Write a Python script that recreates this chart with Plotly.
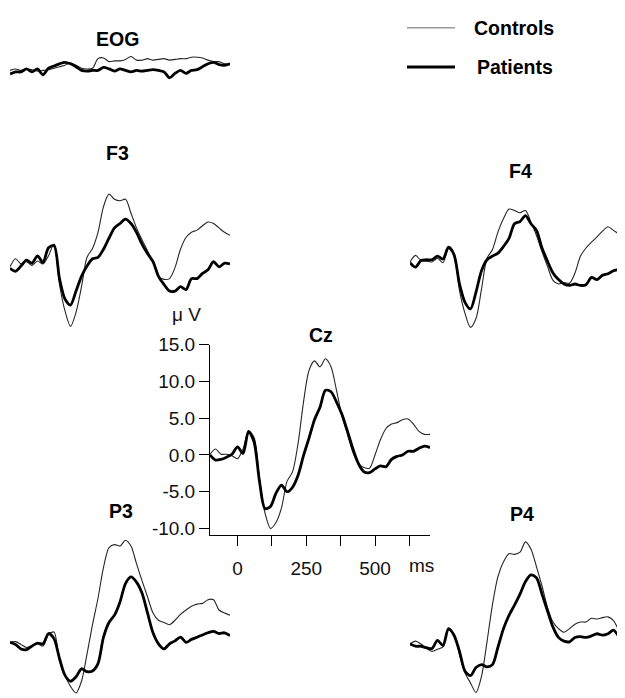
import plotly.graph_objects as go

# ---------------- data (µV), time in ms ----------------
time_ms = list(range(-100, 701, 20))

eog_controls = [0.2, 0.4, 0.2, 0.4, 0.3, 0.1, 0.2, 0.3, 0.5, 0.7, 0.9, 1.2, 0.9, 0.5, 0.4, 0.5,
                1.8, 1.9, 1.4, 1.5, 1.5, 1.7, 2.1, 1.6, 1.6, 1.8, 1.6, 1.7, 1.8, 1.6, 1.7,
                1.8, 1.8, 2.0, 2.0, 1.9, 1.6, 1.4, 1.4, 1.1, 1.0]
eog_patients = [-0.3, 0.0, 0.0, 0.4, 0.0, 0.4, -0.4, 0.5, 0.8, 1.1, 1.3, 1.1, 0.7, 0.2, 0.1, 0.2,
                0.2, 0.6, 0.4, 0.1, 0.4, 0.2, 0.0, 0.2, 0.1, 0.2, 0.3, 0.2, 0.0, -0.8, -0.2,
                0.2, -0.2, 0.2, 0.3, 0.7, 1.1, 1.3, 1.0, 0.9, 1.1]

f3_controls = [0.0, 1.1, 0.4, 0.7, 0.2, 0.8, 0.4, 1.5, 3.1, -2.4, -6.0, -8.1, -6.2, -2.7, 1.3, 2.5,
               4.7, 8.2, 9.9, 9.2, 9.0, 9.2, 7.3, 5.3, 3.7, 2.2, 0.7, -1.3, -1.7, -1.6, -0.1,
               2.4, 4.0, 4.7, 5.0, 5.6, 6.1, 5.9, 5.3, 4.7, 4.3]
f3_patients = [-0.2, -0.6, 0.1, 0.9, 0.5, 1.5, 0.6, 2.6, 2.9, -1.6, -4.4, -5.2, -3.3, -1.3, 0.1, 1.1,
               1.3, 2.4, 3.9, 5.3, 5.9, 6.5, 5.9, 4.7, 3.1, 1.8, 0.7, -1.3, -2.4, -3.3, -3.3,
               -2.7, -3.1, -1.6, -1.6, -0.9, -0.4, 0.7, 0.0, 0.5, 0.4]

f4_controls = [0.0, 0.9, 0.2, 0.1, 0.0, 0.5, -0.1, 1.9, 1.0, -3.9, -7.0, -8.9, -7.7, -3.7, 0.5, 1.7,
               4.1, 5.9, 7.2, 7.0, 6.7, 7.0, 5.4, 3.6, 1.4, -0.6, -2.5, -3.0, -2.8, -2.9, -1.5,
               0.8, 1.9, 2.7, 3.4, 4.2, 4.8, 4.3, 3.8, 3.4, 3.2]
f4_patients = [-0.1, -0.7, 0.2, 0.3, 0.3, 0.8, 0.4, 2.0, 1.0, -3.0, -5.5, -6.4, -4.1, -1.2, 0.3, 0.8,
               1.2, 2.1, 3.2, 5.2, 5.5, 6.3, 5.2, 4.3, 1.9, 0.1, -1.5, -2.4, -3.0, -3.2, -3.0,
               -3.2, -3.1, -2.1, -2.4, -1.8, -1.6, -1.2, -1.0, -0.7, -0.7]

cz_controls = [0.1, 0.8, 0.1, 0.1, -0.1, -0.5, 0.8, 3.2, 2.4, -3.3, -7.9, -10.0, -9.2, -7.2, -3.6, -2.3,
               1.5, 7.2, 11.5, 12.8, 12.0, 13.1, 12.0, 8.8, 5.3, 2.8, 0.3, -1.2, -1.7, -1.8, 0.0,
               2.1, 3.6, 4.2, 4.4, 4.8, 4.9, 4.2, 3.2, 2.8, 2.8]
cz_patients = [0.0, -0.7, -0.6, -0.3, 0.1, 1.1, 0.2, 3.2, 1.8, -3.6, -7.3, -7.0, -5.2, -4.1, -5.0, -4.4,
               -2.8, -0.1, 2.3, 4.8, 6.5, 8.8, 8.6, 7.2, 5.5, 3.2, 0.8, -1.2, -2.3, -2.4, -1.9,
               -1.5, -1.6, -0.6, -0.2, 0.0, 0.5, 0.5, 0.9, 1.2, 1.0]

p3_controls = [0.1, 0.2, -0.2, -0.6, -0.4, -0.1, -0.4, 1.2, 1.5, -2.4, -4.4, -5.9, -6.8, -5.2, -1.5, 2.5,
               6.1, 10.3, 13.0, 13.4, 13.2, 14.0, 13.2, 10.8, 8.5, 6.3, 4.1, 3.1, 2.8, 2.5, 3.1,
               3.9, 4.5, 5.0, 5.3, 5.4, 5.9, 5.9, 4.5, 4.1, 3.8]
p3_patients = [0.1, -0.2, -0.8, -0.9, -0.4, 0.0, -0.1, 1.3, 0.6, -2.1, -4.4, -5.2, -4.6, -3.5, -3.9, -3.8,
               -2.8, 0.8, 2.8, 3.8, 5.6, 8.1, 9.0, 8.3, 6.8, 4.1, 1.4, -0.1, -0.8, -0.1, 0.3,
               0.8, 0.1, 0.5, 0.8, 1.1, 1.4, 1.6, 1.3, 1.4, 1.0]

p4_controls = [0.0, 0.4, 0.0, -0.6, -1.0, -0.7, -0.4, 1.9, 1.4, -1.5, -3.9, -5.3, -6.6, -4.4, 0.3, 5.4,
               9.2, 11.2, 12.3, 12.2, 12.5, 13.9, 12.9, 10.5, 7.9, 5.0, 3.0, 2.1, 1.6, 2.1, 2.7,
               3.0, 3.0, 3.5, 3.4, 3.6, 3.7, 3.2, 1.9, 1.4, 1.2]
p4_patients = [0.0, -0.3, -0.3, -0.5, -0.6, 0.5, -0.2, 2.1, 1.2, -1.0, -3.7, -4.3, -3.2, -2.8, -3.1, -2.8,
               -0.4, 2.1, 3.9, 5.3, 6.8, 8.5, 9.4, 9.0, 6.8, 4.5, 2.3, 0.9, 0.4, 0.3, 0.9,
               1.0, 0.9, 1.1, 1.4, 1.2, 1.4, 1.9, 1.1, 1.5, 1.3]

channel_names = ["EOG", "F3", "F4", "Cz", "P3", "P4"]
series_names = ["Controls", "Patients"]
cz_tick_vals = [-10, -5, 0, 5, 10, 15]
cz_tick_text = ["-10.0", "-5.0", "0.0", "5.0", "10.0", "15.0"]
time_tick_vals = [0, 125, 250, 375, 500, 625]
time_tick_text = ["0", "", "250", "", "500", ""]

# ---------------- layout geometry (screen pixels) ----------------
WIN_W, WIN_H = 625, 698
OFF = 8                      # page body margin offset
W, H = WIN_W - OFF, WIN_H - OFF
PX_PER_MS = 0.275
PX_PER_UV = 7.5
T0, T1 = -100, 700


def px_x(sx):
    return (sx - OFF) / W


def px_y(sy):
    return 1 - (sy - OFF) / H


# left = screen x of t=-100, base = screen y of 0 µV
panels = {
    "EOG": dict(left=10, base=63, lo=-3, hi=3, data=(eog_controls, eog_patients)),
    "F3": dict(left=10, base=262, lo=-11, hi=11, data=(f3_controls, f3_patients)),
    "F4": dict(left=410, base=257, lo=-11, hi=11, data=(f4_controls, f4_patients)),
    "Cz": dict(left=210, base=454, lo=-10.9, hi=15, data=(cz_controls, cz_patients)),
    "P3": dict(left=10, base=646, lo=-11, hi=15, data=(p3_controls, p3_patients)),
    "P4": dict(left=410, base=647, lo=-11, hi=15, data=(p4_controls, p4_patients)),
}

styles = {
    "Controls": dict(color="#262626", width=1.1),
    "Patients": dict(color="#000000", width=2.8),
}

FONT = "Liberation Sans, Arial, sans-serif"

fig = go.Figure()
layout_axes = {}

for i, name in enumerate(channel_names, start=1):
    p = panels[name]
    xa = "x" if i == 1 else f"x{i}"
    ya = "y" if i == 1 else f"y{i}"
    xkey = "xaxis" if i == 1 else f"xaxis{i}"
    ykey = "yaxis" if i == 1 else f"yaxis{i}"

    right_px = min(WIN_W, p["left"] + (T1 - T0) * PX_PER_MS)
    x_hi = T0 + (right_px - p["left"]) / PX_PER_MS
    lo = max(p["lo"], -(WIN_H - p["base"]) / PX_PER_UV)
    hi = min(p["hi"], (p["base"] - OFF) / PX_PER_UV)
    top_px = p["base"] - hi * PX_PER_UV
    bot_px = p["base"] - lo * PX_PER_UV

    for sname, vals in zip(series_names, p["data"]):
        fig.add_trace(go.Scatter(
            x=time_ms, y=vals, mode="lines", name=sname,
            line=dict(color=styles[sname]["color"], width=styles[sname]["width"],
                      shape="spline", smoothing=0.8),
            xaxis=xa, yaxis=ya, showlegend=False, hoverinfo="skip"))

    is_cz = name == "Cz"
    layout_axes[xkey] = dict(
        domain=[px_x(p["left"]), px_x(right_px)], range=[T0, x_hi], anchor=ya,
        visible=is_cz, showgrid=False, zeroline=False,
        showline=is_cz, linecolor="#000", linewidth=1,
        ticks="outside" if is_cz else "", ticklen=10, tickcolor="#000", tickwidth=1,
        tickvals=time_tick_vals, ticktext=time_tick_text,
        tickfont=dict(family=FONT, size=19, color="#111"), ticklabelstandoff=6,
    )
    layout_axes[ykey] = dict(
        domain=[px_y(bot_px), px_y(top_px)], range=[lo, hi], anchor=xa,
        visible=is_cz, showgrid=False, zeroline=False,
        showline=is_cz, linecolor="#000", linewidth=1,
        ticks="outside" if is_cz else "", ticklen=10, tickcolor="#000", tickwidth=1,
        tickvals=cz_tick_vals, ticktext=cz_tick_text,
        tickfont=dict(family=FONT, size=19, color="#111"), ticklabelstandoff=0,
    )

# panel titles and unit labels
title_pos = {"EOG": (117, 29), "F3": (117, 146), "F4": (520, 164),
             "Cz": (321, 332), "P3": (121, 511), "P4": (522, 514)}
annotations = []
for name, (sx, sy) in title_pos.items():
    annotations.append(dict(text=f"<b>{name}</b>", x=px_x(sx), y=px_y(sy), xref="paper", yref="paper",
                            xanchor="center", yanchor="middle", showarrow=False,
                            font=dict(family=FONT, size=19.5, color="#000")))
annotations.append(dict(text="μ V", x=px_x(186), y=px_y(311), xref="paper", yref="paper",
                        xanchor="center", yanchor="middle", showarrow=False,
                        font=dict(family=FONT, size=19, color="#111")))
annotations.append(dict(text="ms", x=px_x(421), y=px_y(567), xref="paper", yref="paper",
                        xanchor="center", yanchor="middle", showarrow=False,
                        font=dict(family=FONT, size=19, color="#111")))

# legend (drawn manually)
legend_rows = [("Controls", 18, 472, "#9a9a9a", 1.6), ("Patients", 58, 475, "#000000", 3)]
shapes = []
for label, sy, tx, col, lw in legend_rows:
    shapes.append(dict(type="line", xref="paper", yref="paper",
                       x0=px_x(407), x1=px_x(455), y0=px_y(sy), y1=px_y(sy),
                       line=dict(color=col, width=lw)))
    annotations.append(dict(text=f"<b>{label}</b>", x=px_x(tx), y=px_y(sy), xref="paper", yref="paper",
                            xanchor="left", yanchor="middle", showarrow=False,
                            font=dict(family=FONT, size=19.5, color="#000")))

fig.update_layout(
    width=W, height=H, margin=dict(l=0, r=0, t=0, b=0),
    paper_bgcolor="white", plot_bgcolor="rgba(0,0,0,0)",
    showlegend=False, annotations=annotations, shapes=shapes,
    **layout_axes,
)

fig.write_html("out.html")
